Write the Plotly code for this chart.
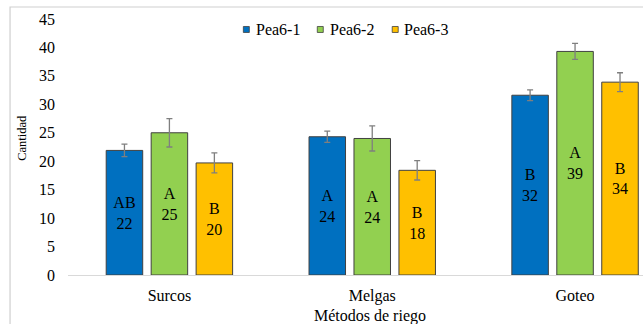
import plotly.graph_objects as go

# Irrigation methods and the three Pea6 lines
metodos = ["Surcos", "Melgas", "Goteo"]
series = ["Pea6-1", "Pea6-2", "Pea6-3"]

pea6_1 = [21.9, 24.3, 31.6]
pea6_2 = [25.0, 24.0, 39.3]
pea6_3 = [19.7, 18.4, 33.9]

err_1 = [1.1, 1.0, 0.95]
err_2 = [2.5, 2.2, 1.4]
err_3 = [1.75, 1.7, 1.65]

letras_1 = ["AB", "A", "B"]
letras_2 = ["A", "A", "A"]
letras_3 = ["B", "B", "B"]

colores = ["#0070C0", "#92D050", "#FFC000"]
y_ticks = [0, 5, 10, 15, 20, 25, 30, 35, 40, 45]

W, H = 643, 324
ML, MT, MB = 67.5, 18.5, 49
PW = W - ML
PH = H - MT - MB
FONT = "Liberation Serif"


def px_x(p):
    return (p - ML) / PW


def px_y(p):
    return (H - MB - p) / PH


fig = go.Figure()
for name, vals, errs, letras, col in zip(
    series,
    [pea6_1, pea6_2, pea6_3],
    [err_1, err_2, err_3],
    [letras_1, letras_2, letras_3],
    colores,
):
    fig.add_trace(go.Bar(
        name=name,
        x=metodos,
        y=vals,
        customdata=letras,
        texttemplate="%{customdata}<br>%{y:.0f}",
        textposition="inside",
        insidetextanchor="middle",
        textangle=0,
        textfont=dict(family=FONT, size=16, color="#000000"),
        marker=dict(color=col, line=dict(color="#404040", width=1)),
        error_y=dict(type="data", array=errs, visible=True,
                     color="#7f7f7f", thickness=1.3, width=3),
        showlegend=False,
    ))

# category spacing: one category spans ~203 px
x_max = -0.5 + PW / 203.0

shapes = [
    # chart frame (left and top edges)
    dict(type="rect", xref="paper", yref="paper",
         x0=px_x(9.5), x1=px_x(700), y0=px_y(6.5), y1=px_y(400),
         line=dict(color="#cfcfcf", width=1.2)),
]
annotations = [
    dict(text="Cantidad", xref="paper", yref="paper",
         x=px_x(22), y=px_y(138), textangle=-90, showarrow=False,
         font=dict(family=FONT, size=12.5, color="#000000"),
         xanchor="center", yanchor="middle"),
    dict(text="Métodos de riego", xref="paper", yref="paper",
         x=px_x(370), y=px_y(316), showarrow=False,
         font=dict(family=FONT, size=16, color="#000000"),
         xanchor="center", yanchor="middle"),
]

# legend row
sq_left = [243, 317, 392]
txt_left = [254, 327.5, 402]
for name, col, sx, tx in zip(series, colores, sq_left, txt_left):
    shapes.append(dict(type="rect", xref="paper", yref="paper",
                       x0=px_x(sx), x1=px_x(sx + 6),
                       y0=px_y(32), y1=px_y(26),
                       fillcolor=col, line=dict(color="#404040", width=0.8)))
    annotations.append(dict(text=name, xref="paper", yref="paper",
                            x=px_x(tx), y=px_y(29), showarrow=False,
                            xanchor="left", yanchor="middle",
                            font=dict(family=FONT, size=16, color="#000000")))

fig.update_layout(
    width=W, height=H,
    margin=dict(l=ML, r=0, t=MT, b=MB),
    paper_bgcolor="white", plot_bgcolor="white",
    barmode="group", bargap=0.335, bargroupgap=0.188,
    font=dict(family=FONT, size=16, color="#000000"),
    shapes=shapes,
    annotations=annotations,
    xaxis=dict(range=[-0.5, x_max], showline=True, linecolor="#d9d9d9",
               linewidth=1, showgrid=False, ticks="", zeroline=False,
               ticklabelstandoff=6,
               tickfont=dict(family=FONT, size=16, color="#000000")),
    yaxis=dict(range=[0, 45], tickvals=y_ticks, showline=False,
               showgrid=False, zeroline=False, ticks="",
               ticklabelstandoff=12,
               tickfont=dict(family=FONT, size=16, color="#000000")),
)

fig.write_html("out.html")
